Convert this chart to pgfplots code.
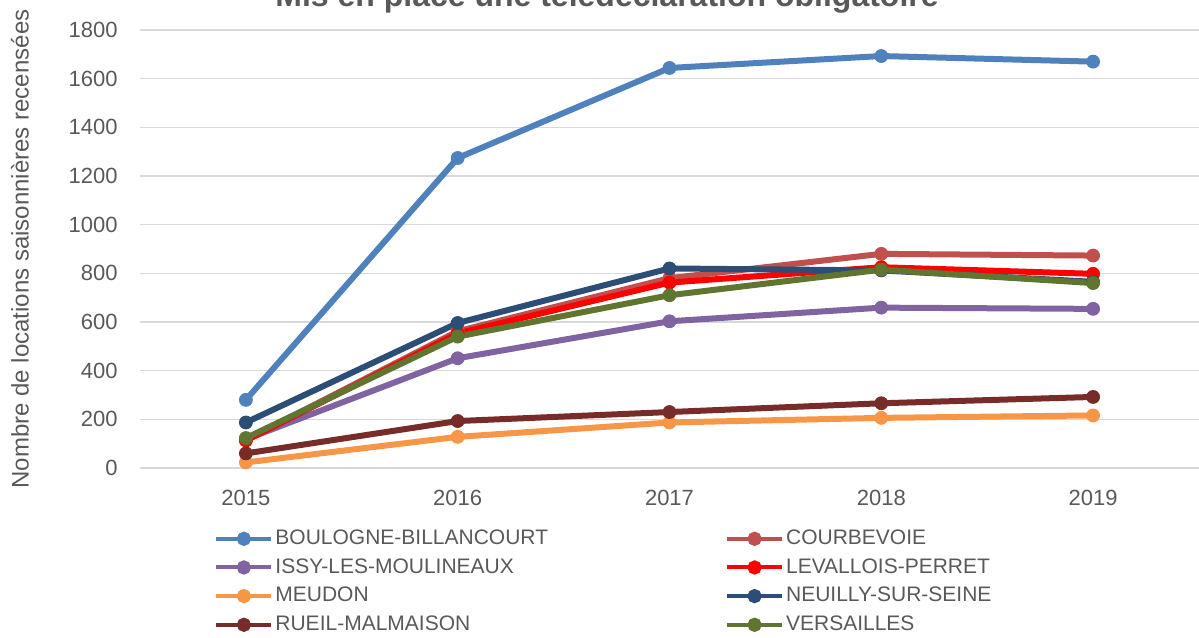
\documentclass[border=0pt]{standalone}
\usepackage{fontspec}
\setmainfont{Liberation Sans}
\usepackage{pgfplots}
\pgfplotsset{compat=1.18}

\definecolor{txt}{HTML}{595959}
\definecolor{gridc}{HTML}{D9D9D9}
\definecolor{cBoul}{HTML}{4F81BD}
\definecolor{cCour}{HTML}{C0504D}
\definecolor{cIssy}{HTML}{8064A2}
\definecolor{cLeva}{HTML}{FF0000}
\definecolor{cMeud}{HTML}{F79646}
\definecolor{cNeui}{HTML}{2C4D75}
\definecolor{cRuei}{HTML}{772C2A}
\definecolor{cVers}{HTML}{5F7530}

\pgfplotsset{
  serie/.style={color=#1, line width=3pt, mark=*, mark size=3.2pt,
                mark options={solid, fill=#1, draw=#1, line width=0.5pt}},
}

\begin{document}
\begin{tikzpicture}
\begin{axis}[
  scale only axis, width=529.5pt, height=219pt,
  xmin=2014.5, xmax=2019.5, ymin=0, ymax=1800,
  xtick={2015,2016,2017,2018,2019},
  ytick={0,200,...,1800},
  ymajorgrids, grid style={draw=gridc, line width=0.8pt},
  axis line style={draw=none}, major tick length=0pt,
  tick label style={font=\fontsize{11}{13}\selectfont, text=txt},
  /pgf/number format/1000 sep={},
  /pgf/number format/assume math mode=true,
  yticklabel style={anchor=east, inner sep=0pt, xshift=-11pt},
  xticklabel style={anchor=north, inner sep=0pt, yshift=-11pt},
  clip=false,
  legend columns=2,
  legend cell align=left,
  legend image code/.code={
    \draw[#1, line width=2pt] (0pt,0pt) -- (27.5pt,0pt);
    \fill[#1] (13.75pt,0pt) circle (2pt);
  },
  legend style={draw=none, fill=none, inner sep=0pt,
    at={(0.0699,-0.136)}, anchor=north west,
    font=\fontsize{10.5}{12.5}\selectfont, text=txt,
    nodes={inner sep=1pt},
    row sep=3.5pt,
    /tikz/every odd column/.append style={column sep=0pt},
    /tikz/every even column/.append style={column sep=87.5pt}},
]
\addplot[serie=cBoul] coordinates {(2015,280)(2016,1274)(2017,1644)(2018,1693)(2019,1670)};
\addlegendentry{BOULOGNE-BILLANCOURT}
\addplot[serie=cCour] coordinates {(2015,115)(2016,562)(2017,780)(2018,880)(2019,873)};
\addlegendentry{COURBEVOIE}
\addplot[serie=cIssy] coordinates {(2015,118)(2016,451)(2017,603)(2018,659)(2019,654)};
\addlegendentry{ISSY-LES-MOULINEAUX}
\addplot[serie=cLeva] coordinates {(2015,113)(2016,553)(2017,762)(2018,825)(2019,798)};
\addlegendentry{LEVALLOIS-PERRET}
\addplot[serie=cMeud] coordinates {(2015,23)(2016,128)(2017,187)(2018,206)(2019,216)};
\addlegendentry{MEUDON}
\addplot[serie=cNeui] coordinates {(2015,187)(2016,596)(2017,820)(2018,812)(2019,765)};
\addlegendentry{NEUILLY-SUR-SEINE}
\addplot[serie=cRuei] coordinates {(2015,60)(2016,193)(2017,230)(2018,266)(2019,292)};
\addlegendentry{RUEIL-MALMAISON}
\addplot[serie=cVers] coordinates {(2015,123)(2016,540)(2017,710)(2018,815)(2019,760)};
\addlegendentry{VERSAILLES}
\end{axis}

% axis title and rotated y label
\node[rotate=90, font=\fontsize{12}{14}\selectfont, text=txt]
  at (-60pt,109.5pt) {Nombre de locations saisonnières recensées};
\node[anchor=base, font=\bfseries\fontsize{16}{19}\selectfont, text=txt]
  at (233.5pt,230.5pt) {Mis en place une télédéclaration obligatoire};

\pgfresetboundingbox
\path[use as bounding box] (-70pt,-84.5pt) rectangle (529.5pt,234pt);
\end{tikzpicture}
\end{document}
